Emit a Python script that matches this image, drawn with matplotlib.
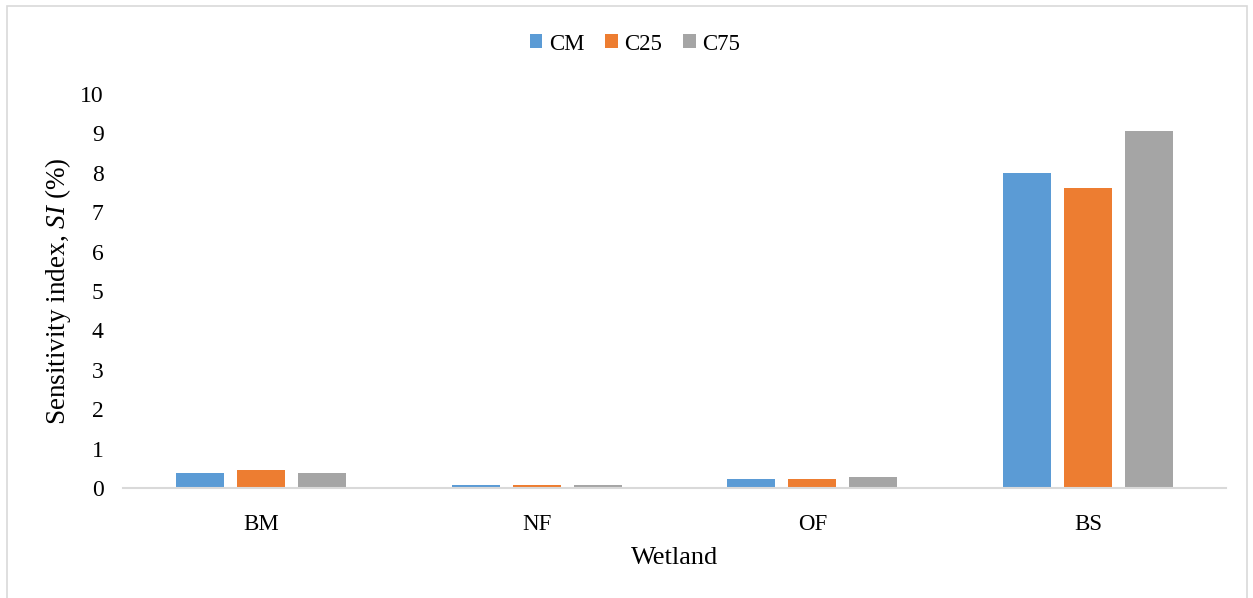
import matplotlib
matplotlib.use("Agg")
import matplotlib.pyplot as plt
import numpy as np
from matplotlib.patches import Rectangle

plt.rcParams['font.family'] = ['Liberation Serif', 'DejaVu Serif']
plt.rcParams['mathtext.fontset'] = 'custom'
plt.rcParams['mathtext.rm'] = 'Liberation Serif'
plt.rcParams['mathtext.it'] = 'Liberation Serif:italic'

wetlands = ['BM', 'NF', 'OF', 'BS']
series = ['CM', 'C25', 'C75']
cm_vals = [0.39, 0.07, 0.23, 8.00]
c25_vals = [0.46, 0.07, 0.23, 7.62]
c75_vals = [0.38, 0.07, 0.27, 9.06]
colors = ['#5B9BD5', '#ED7D31', '#A5A5A5']

fig = plt.figure(figsize=(12.53, 5.98), dpi=100)
ax = fig.add_axes([123 / 1253, 1 - 488 / 598, 1103 / 1253, 394 / 598])

x = np.arange(len(wetlands))
width = 0.174
step = 0.221
for i, (name, vals) in enumerate(zip(series, [cm_vals, c25_vals, c75_vals])):
    ax.bar(x + (i - 1) * step, vals, width, color=colors[i], label=name, zorder=2)

ax.set_xlim(-0.5, len(wetlands) - 0.5)
ax.set_ylim(0, 10)
ax.set_yticks(range(0, 11))
ax.set_xticks(x)
ax.set_xticklabels(wetlands)
ax.tick_params(axis='x', length=0, labelsize=16.5, pad=19)
ax.tick_params(axis='y', length=0, labelsize=17, pad=14)

for side in ['top', 'right', 'left']:
    ax.spines[side].set_visible(False)
ax.spines['bottom'].set_color('#D9D9D9')
ax.spines['bottom'].set_linewidth(1.5)
ax.spines['bottom'].set_zorder(3)

ax.set_xlabel('Wetland', fontsize=19, labelpad=8)
ax.set_ylabel(r'Sensitivity index, $\mathit{SI}$ (%)', fontsize=19.5, labelpad=5)

fig.legend(loc='center', bbox_to_anchor=(635 / 1253, 1 - 44 / 598), ncol=3,
           frameon=False, fontsize=16.5, handlelength=0.55, handleheight=0.55,
           handletextpad=0.3, columnspacing=0.9)

# light chart-area border
fig.add_artist(Rectangle((7 / 1253, -0.01), 1240 / 1253, 1 - 6 / 598 + 0.01,
                         transform=fig.transFigure, fill=False,
                         edgecolor='#D9D9D9', linewidth=1.2))

fig.savefig('out.png', dpi=100)
